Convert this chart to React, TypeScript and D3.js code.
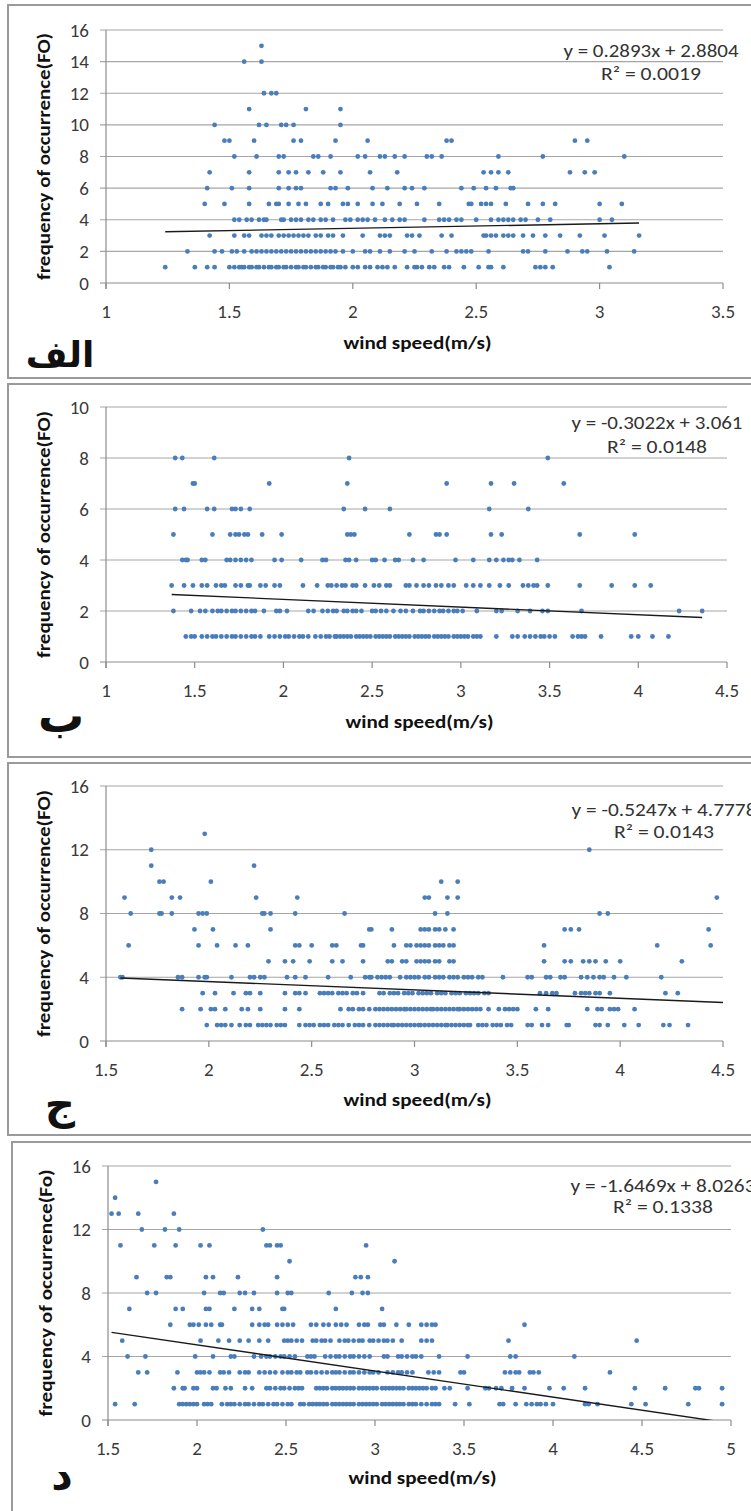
import React from "react";
import * as d3 from "d3";

const W = 751;
const H = 1511;

// Panel A (الف): [frequency, wind speeds]
const rowsA: [number, number[]][] = [
  [15, [1.63]],
  [14, [1.56, 1.63]],
  [12, [1.64, 1.67, 1.69]],
  [11, [1.58, 1.81, 1.95]],
  [10, [1.44, 1.62, 1.65, 1.71, 1.73, 1.76, 1.95]],
  [9, [1.48, 1.5, 1.6, 1.76, 1.79, 1.93, 2.06, 2.38, 2.4, 2.9, 2.95]],
  [8, [1.52, 1.61, 1.7, 1.72, 1.84, 1.86, 1.91, 2.02, 2.05, 2.11, 2.13, 2.17, 2.21, 2.3, 2.32, 2.36, 2.59, 2.77, 3.1]],
  [7, [1.42, 1.58, 1.7, 1.74, 1.77, 1.82, 1.88, 1.95, 2.07, 2.18, 2.53, 2.56, 2.59, 2.63, 2.88, 2.94, 2.98]],
  [6, [1.41, 1.51, 1.58, 1.7, 1.74, 1.77, 1.79, 1.91, 1.93, 1.98, 2.08, 2.14, 2.21, 2.24, 2.29, 2.44, 2.49, 2.54, 2.58, 2.64, 2.65]],
  [5, [1.4, 1.48, 1.58, 1.66, 1.69, 1.7, 1.74, 1.78, 1.81, 1.87, 1.9, 1.96, 1.98, 2.02, 2.08, 2.12, 2.19, 2.26, 2.35, 2.47, 2.48, 2.52, 2.54, 2.56, 2.62, 2.71, 2.77, 2.82, 3.0, 3.09]],
  [4, [1.52, 1.54, 1.57, 1.59, 1.62, 1.64, 1.65, 1.71, 1.72, 1.75, 1.77, 1.79, 1.82, 1.84, 1.87, 1.89, 1.92, 1.97, 1.99, 2.02, 2.04, 2.06, 2.09, 2.13, 2.16, 2.19, 2.21, 2.29, 2.35, 2.37, 2.39, 2.42, 2.44, 2.5, 2.56, 2.59, 2.61, 2.63, 2.65, 2.68, 2.7, 2.75, 2.8, 3.0, 3.05]],
  [3, [1.42, 1.52, 1.56, 1.58, 1.63, 1.65, 1.67, 1.7, 1.72, 1.74, 1.76, 1.78, 1.8, 1.82, 1.85, 1.87, 1.9, 1.92, 1.96, 2.04, 2.11, 2.13, 2.15, 2.22, 2.24, 2.27, 2.36, 2.4, 2.53, 2.54, 2.56, 2.58, 2.61, 2.63, 2.65, 2.69, 2.73, 2.78, 2.84, 2.92, 3.02, 3.16]],
  [2, [1.33, 1.44, 1.47, 1.51, 1.53, 1.56, 1.59, 1.61, 1.63, 1.65, 1.67, 1.69, 1.71, 1.73, 1.75, 1.77, 1.79, 1.81, 1.83, 1.85, 1.87, 1.89, 1.91, 1.93, 1.96, 2.0, 2.05, 2.07, 2.11, 2.15, 2.21, 2.25, 2.32, 2.38, 2.42, 2.44, 2.46, 2.48, 2.55, 2.69, 2.71, 2.78, 2.87, 2.93, 2.95, 3.03, 3.14]],
  [1, [1.24, 1.36, 1.41, 1.44, 1.5, 1.52, 1.54, 1.55, 1.56, 1.58, 1.59, 1.61, 1.62, 1.64, 1.66, 1.67, 1.69, 1.7, 1.72, 1.73, 1.75, 1.77, 1.78, 1.8, 1.81, 1.83, 1.85, 1.86, 1.88, 1.89, 1.91, 1.92, 1.94, 1.95, 1.97, 2.0, 2.02, 2.05, 2.07, 2.1, 2.12, 2.14, 2.17, 2.22, 2.25, 2.26, 2.28, 2.31, 2.33, 2.37, 2.39, 2.45, 2.51, 2.55, 2.56, 2.61, 2.74, 2.76, 2.78, 2.81, 3.04]],
];

// Panel B (ب)
const rowsB: [number, number[]][] = [
  [8, [1.39, 1.43, 1.61, 2.37, 3.49]],
  [7, [1.49, 1.5, 1.92, 2.36, 2.92, 3.17, 3.3, 3.58]],
  [6, [1.39, 1.44, 1.57, 1.61, 1.71, 1.73, 1.76, 1.81, 2.34, 2.46, 2.6, 3.16, 3.38]],
  [5, [1.38, 1.6, 1.7, 1.73, 1.75, 1.78, 1.8, 1.88, 1.99, 2.36, 2.38, 2.4, 2.71, 2.86, 2.88, 2.92, 3.17, 3.23, 3.67, 3.98]],
  [4, [1.43, 1.45, 1.46, 1.54, 1.56, 1.68, 1.7, 1.73, 1.76, 1.79, 1.82, 1.95, 1.99, 2.1, 2.22, 2.24, 2.35, 2.37, 2.41, 2.5, 2.52, 2.57, 2.63, 2.65, 2.73, 2.79, 2.97, 3.07, 3.16, 3.2, 3.24, 3.27, 3.29, 3.33, 3.43]],
  [3, [1.37, 1.44, 1.49, 1.54, 1.57, 1.62, 1.65, 1.67, 1.73, 1.76, 1.8, 1.81, 1.87, 1.9, 1.95, 1.98, 2.11, 2.19, 2.25, 2.27, 2.3, 2.33, 2.35, 2.39, 2.41, 2.46, 2.51, 2.54, 2.58, 2.6, 2.69, 2.71, 2.75, 2.79, 2.82, 2.86, 2.89, 2.93, 2.96, 3.03, 3.07, 3.11, 3.16, 3.22, 3.27, 3.35, 3.38, 3.41, 3.43, 3.49, 3.67, 3.85, 3.98, 4.07]],
  [2, [1.38, 1.48, 1.53, 1.56, 1.6, 1.63, 1.65, 1.68, 1.71, 1.73, 1.76, 1.79, 1.82, 1.84, 1.89, 1.96, 1.98, 2.02, 2.14, 2.17, 2.22, 2.25, 2.28, 2.3, 2.34, 2.36, 2.39, 2.41, 2.44, 2.5, 2.52, 2.55, 2.58, 2.62, 2.66, 2.69, 2.73, 2.77, 2.79, 2.82, 2.85, 2.88, 2.9, 2.93, 2.96, 2.98, 3.01, 3.09, 3.2, 3.23, 3.32, 3.39, 3.46, 3.49, 3.68, 4.23, 4.36]],
  [1, [1.45, 1.48, 1.5, 1.54, 1.57, 1.6, 1.62, 1.65, 1.68, 1.71, 1.73, 1.76, 1.79, 1.82, 1.84, 1.87, 1.92, 1.95, 1.98, 2.01, 2.03, 2.06, 2.09, 2.11, 2.14, 2.18, 2.21, 2.24, 2.26, 2.29, 2.3, 2.32, 2.34, 2.36, 2.38, 2.41, 2.43, 2.45, 2.47, 2.49, 2.52, 2.54, 2.56, 2.58, 2.6, 2.63, 2.65, 2.67, 2.69, 2.71, 2.74, 2.76, 2.78, 2.8, 2.82, 2.85, 2.87, 2.89, 2.91, 2.93, 2.96, 2.98, 3.0, 3.02, 3.04, 3.07, 3.09, 3.11, 3.2, 3.29, 3.32, 3.36, 3.39, 3.42, 3.45, 3.47, 3.5, 3.53, 3.63, 3.66, 3.68, 3.7, 3.79, 3.96, 4.0, 4.08, 4.17]],
];

// Panel C (ج)
const rowsC: [number, number[]][] = [
  [13, [1.98]],
  [12, [1.72, 3.85]],
  [11, [1.72, 2.22]],
  [10, [1.76, 1.78, 2.01, 3.13, 3.21]],
  [9, [1.59, 1.82, 1.86, 2.23, 2.43, 3.05, 3.07, 3.16, 3.21, 4.47]],
  [8, [1.62, 1.76, 1.77, 1.82, 1.95, 1.97, 1.99, 2.26, 2.27, 2.3, 2.42, 2.66, 3.1, 3.16, 3.9, 3.94]],
  [7, [1.93, 2.02, 2.3, 2.78, 2.79, 2.89, 3.03, 3.05, 3.07, 3.1, 3.12, 3.15, 3.19, 3.73, 3.76, 3.8, 4.43]],
  [6, [1.61, 1.95, 2.04, 2.13, 2.19, 2.42, 2.44, 2.5, 2.6, 2.62, 2.74, 2.75, 2.9, 2.96, 2.98, 3.01, 3.03, 3.05, 3.07, 3.1, 3.12, 3.14, 3.17, 3.19, 3.63, 4.18, 4.44]],
  [5, [2.29, 2.37, 2.41, 2.49, 2.6, 2.65, 2.75, 2.87, 2.89, 2.94, 2.96, 3.01, 3.03, 3.05, 3.07, 3.1, 3.12, 3.17, 3.19, 3.63, 3.73, 3.76, 3.82, 3.85, 3.88, 3.93, 4.0, 4.3]],
  [4, [1.57, 1.58, 1.85, 1.87, 1.95, 1.98, 1.99, 2.11, 2.2, 2.22, 2.25, 2.27, 2.38, 2.42, 2.47, 2.58, 2.69, 2.76, 2.78, 2.79, 2.82, 2.84, 2.86, 2.88, 2.93, 2.96, 2.98, 3.0, 3.02, 3.05, 3.07, 3.1, 3.12, 3.14, 3.17, 3.19, 3.21, 3.24, 3.26, 3.28, 3.31, 3.33, 3.43, 3.55, 3.57, 3.64, 3.66, 3.71, 3.73, 3.81, 3.84, 3.87, 3.9, 3.92, 3.97, 4.03, 4.2]],
  [3, [1.97, 2.03, 2.12, 2.18, 2.2, 2.25, 2.37, 2.42, 2.44, 2.47, 2.54, 2.56, 2.58, 2.6, 2.63, 2.65, 2.67, 2.7, 2.72, 2.75, 2.83, 2.85, 2.88, 2.9, 2.92, 2.95, 2.97, 2.99, 3.02, 3.04, 3.06, 3.08, 3.11, 3.13, 3.15, 3.18, 3.2, 3.22, 3.25, 3.27, 3.29, 3.31, 3.34, 3.36, 3.61, 3.64, 3.67, 3.69, 3.78, 3.81, 3.83, 3.85, 3.88, 3.9, 3.95, 4.22, 4.28]],
  [2, [1.87, 1.96, 2.01, 2.03, 2.08, 2.16, 2.19, 2.25, 2.37, 2.44, 2.64, 2.68, 2.7, 2.73, 2.75, 2.78, 2.81, 2.83, 2.85, 2.87, 2.89, 2.91, 2.93, 2.95, 2.96, 2.98, 3.0, 3.02, 3.04, 3.06, 3.08, 3.09, 3.11, 3.13, 3.15, 3.17, 3.19, 3.21, 3.22, 3.24, 3.26, 3.28, 3.3, 3.32, 3.36, 3.41, 3.44, 3.46, 3.48, 3.5, 3.59, 3.65, 3.84, 3.89, 3.91, 3.95, 3.97, 3.99, 4.07]],
  [1, [1.99, 2.04, 2.06, 2.08, 2.11, 2.15, 2.18, 2.2, 2.24, 2.26, 2.28, 2.3, 2.33, 2.35, 2.37, 2.44, 2.47, 2.49, 2.51, 2.54, 2.56, 2.58, 2.61, 2.63, 2.65, 2.68, 2.71, 2.73, 2.75, 2.78, 2.81, 2.83, 2.85, 2.87, 2.89, 2.9, 2.92, 2.94, 2.96, 2.98, 3.0, 3.02, 3.03, 3.05, 3.07, 3.09, 3.11, 3.13, 3.15, 3.16, 3.18, 3.2, 3.22, 3.24, 3.26, 3.27, 3.31, 3.33, 3.35, 3.38, 3.4, 3.42, 3.45, 3.47, 3.55, 3.57, 3.62, 3.65, 3.74, 3.75, 3.88, 3.9, 3.94, 4.02, 4.09, 4.21, 4.24, 4.33]],
];

// Panel D (د)
const rowsD: [number, number[]][] = [
  [15, [1.77]],
  [14, [1.54]],
  [13, [1.52, 1.56, 1.67, 1.87]],
  [12, [1.69, 1.82, 1.9, 2.37]],
  [11, [1.57, 1.76, 1.88, 2.02, 2.07, 2.39, 2.41, 2.45, 2.47, 2.95]],
  [10, [2.52, 3.11]],
  [9, [1.66, 1.83, 1.85, 2.05, 2.09, 2.23, 2.45, 2.89, 2.92, 2.96]],
  [8, [1.72, 1.77, 2.04, 2.13, 2.15, 2.24, 2.27, 2.32, 2.45, 2.51, 2.53, 2.74, 2.87, 2.93, 2.96]],
  [7, [1.62, 1.88, 1.92, 2.05, 2.07, 2.21, 2.31, 2.35, 2.48, 2.49, 2.78, 3.04]],
  [6, [1.85, 1.96, 1.98, 2.01, 2.05, 2.08, 2.13, 2.14, 2.31, 2.35, 2.38, 2.4, 2.45, 2.48, 2.51, 2.54, 2.64, 2.67, 2.71, 2.74, 2.78, 2.81, 2.84, 2.91, 2.94, 2.96, 3.03, 3.05, 3.12, 3.19, 3.26, 3.29, 3.32, 3.34, 3.84]],
  [5, [1.58, 2.02, 2.12, 2.18, 2.24, 2.29, 2.35, 2.4, 2.49, 2.51, 2.53, 2.56, 2.59, 2.65, 2.67, 2.7, 2.72, 2.75, 2.8, 2.83, 2.85, 2.88, 2.91, 2.93, 2.97, 2.99, 3.02, 3.05, 3.07, 3.1, 3.15, 3.26, 3.29, 3.32, 3.75, 4.47]],
  [4, [1.61, 1.71, 1.99, 2.09, 2.19, 2.21, 2.32, 2.36, 2.39, 2.41, 2.44, 2.47, 2.49, 2.52, 2.55, 2.62, 2.64, 2.66, 2.72, 2.75, 2.78, 2.8, 2.83, 2.86, 2.88, 2.91, 2.94, 2.97, 3.05, 3.07, 3.13, 3.15, 3.18, 3.21, 3.23, 3.26, 3.36, 3.52, 3.76, 3.79, 4.12]],
  [3, [1.67, 1.72, 1.89, 2.0, 2.02, 2.04, 2.07, 2.13, 2.15, 2.18, 2.24, 2.27, 2.29, 2.35, 2.38, 2.41, 2.44, 2.48, 2.51, 2.53, 2.56, 2.58, 2.62, 2.64, 2.67, 2.7, 2.73, 2.76, 2.78, 2.8, 2.83, 2.86, 2.88, 2.91, 2.94, 2.97, 2.99, 3.02, 3.07, 3.1, 3.13, 3.15, 3.18, 3.21, 3.3, 3.33, 3.36, 3.48, 3.5, 3.73, 3.76, 3.79, 3.81, 3.87, 3.89, 3.92, 4.32]],
  [2, [1.87, 1.92, 1.93, 1.98, 2.0, 2.09, 2.11, 2.16, 2.19, 2.27, 2.31, 2.39, 2.41, 2.44, 2.47, 2.49, 2.52, 2.55, 2.57, 2.59, 2.67, 2.69, 2.71, 2.73, 2.76, 2.78, 2.8, 2.82, 2.84, 2.86, 2.88, 2.91, 2.93, 2.95, 2.97, 2.99, 3.01, 3.04, 3.06, 3.08, 3.1, 3.12, 3.14, 3.16, 3.19, 3.21, 3.23, 3.25, 3.27, 3.29, 3.32, 3.34, 3.39, 3.42, 3.52, 3.62, 3.64, 3.68, 3.71, 3.77, 3.84, 3.98, 4.06, 4.18, 4.46, 4.63, 4.8, 4.82, 4.95]],
  [1, [1.54, 1.65, 1.9, 1.92, 1.94, 1.96, 1.98, 2.0, 2.04, 2.06, 2.08, 2.14, 2.17, 2.19, 2.21, 2.24, 2.27, 2.29, 2.32, 2.35, 2.37, 2.4, 2.43, 2.45, 2.48, 2.51, 2.53, 2.58, 2.6, 2.63, 2.65, 2.67, 2.69, 2.71, 2.73, 2.76, 2.78, 2.8, 2.82, 2.84, 2.86, 2.88, 2.91, 2.93, 2.95, 2.97, 2.99, 3.01, 3.04, 3.06, 3.08, 3.1, 3.12, 3.14, 3.16, 3.19, 3.21, 3.23, 3.26, 3.29, 3.32, 3.34, 3.36, 3.45, 3.53, 3.7, 3.72, 3.79, 3.85, 3.88, 3.91, 3.93, 3.96, 4.0, 4.18, 4.2, 4.25, 4.44, 4.52, 4.76, 4.95]],
];

const xTicksA = [1, 1.5, 2, 2.5, 3, 3.5];
const yTicksA = [0, 2, 4, 6, 8, 10, 12, 14, 16];
const xTicksB = [1, 1.5, 2, 2.5, 3, 3.5, 4, 4.5];
const yTicksB = [0, 2, 4, 6, 8, 10];
const xTicksC = [1.5, 2, 2.5, 3, 3.5, 4, 4.5];
const yTicksC = [0, 4, 8, 12, 16];
const xTicksD = [1.5, 2, 2.5, 3, 3.5, 4, 4.5, 5];
const yTicksD = [0, 4, 8, 12, 16];

const trendA = [0.2893, 2.8804];
const trendB = [-0.3022, 3.061];
const trendC = [-0.5247, 4.7778];
const trendD = [-1.6469, 8.0263];

const equations = ["y = 0.2893x + 2.8804", "y = -0.3022x + 3.061", "y = -0.5247x + 4.7778", "y = -1.6469x + 8.0263"];
const rSquared = ["0.0019", "0.0148", "0.0143", "0.1338"];
const yTitles = ["frequency of occurrence(FO)", "frequency of occurrence(FO)", "frequency of occurrence(FO)", "frequency of occurrence(Fo)"];
const xTitle = "wind speed(m/s)";
const panelLetters = ["الف", "ب", "ج", "د"];

const layouts = [
  { fx: 8, fy: 5, fh: 373, x0: 106, x1: 723, yTop: 30, yBot: 283, eqX: 651, eqY: 51, rY: 74, eqW: 175, lx: 60, ly: 354, ls: 36, xtY: 343, ytX: 44 },
  { fx: 8, fy: 384, fh: 373, x0: 106, x1: 727, yTop: 407, yBot: 662, eqX: 657, eqY: 423, rY: 447, eqW: 171, lx: 61, ly: 716, ls: 46, xtY: 722, ytX: 44 },
  { fx: 8, fy: 763, fh: 372, x0: 106, x1: 723, yTop: 786, yBot: 1041, eqX: 664, eqY: 810, rY: 832, eqW: 185, lx: 60, ly: 1104, ls: 42, xtY: 1100, ytX: 44 },
  { fx: 12, fy: 1142, fh: 380, x0: 108, x1: 731, yTop: 1166, yBot: 1420, eqX: 663, eqY: 1186, rY: 1207, eqW: 185, lx: 62, ly: 1474, ls: 42, xtY: 1478, ytX: 46 },
];

const panels = [
  { rows: rowsA, xTicks: xTicksA, yTicks: yTicksA, trend: trendA },
  { rows: rowsB, xTicks: xTicksB, yTicks: yTicksB, trend: trendB },
  { rows: rowsC, xTicks: xTicksC, yTicks: yTicksC, trend: trendC },
  { rows: rowsD, xTicks: xTicksD, yTicks: yTicksD, trend: trendD },
];

const NUM_FONT = "Carlito, Lato, 'Open Sans', sans-serif";
const DOT = "#4a7ebb";
const GRID = "#a6a6a6";
const AXIS = "#8c8c8c";

function Panel({ idx }: { idx: number }) {
  const p = panels[idx];
  const L = layouts[idx];
  const xs = p.xTicks;
  const ys = p.yTicks;
  const x = d3.scaleLinear().domain([xs[0], xs[xs.length - 1]]).range([L.x0, L.x1]);
  const y = d3.scaleLinear().domain([ys[0], ys[ys.length - 1]]).range([L.yBot, L.yTop]);
  const pts: [number, number][] = [];
  p.rows.forEach(([f, ws]) => ws.forEach((w) => pts.push([w, f])));
  const [xmin, xmax] = d3.extent(pts, (d) => d[0]) as [number, number];
  const tEnd = idx === 2 ? xs[xs.length - 1] : xmax;
  const line = d3
    .line<number>()
    .x((v) => x(v))
    .y((v) => y(p.trend[0] * v + p.trend[1]));
  const clipId = `clip${idx}`;
  return (
    <g>
      <rect x={L.fx} y={L.fy} width={W + 20} height={L.fh} fill="#fff" stroke="#9a9a9a" strokeWidth={2} />
      <defs>
        <clipPath id={clipId}>
          <rect x={L.x0} y={L.yTop - 5} width={L.x1 - L.x0} height={L.yBot - L.yTop + 5} />
        </clipPath>
      </defs>
      {ys.map((t) => (
        <line key={"g" + t} x1={L.x0 - 6} x2={L.x1} y1={y(t)} y2={y(t)} stroke={t === 0 ? AXIS : GRID} strokeWidth={1.2} />
      ))}
      <line x1={L.x0} x2={L.x0} y1={L.yTop} y2={L.yBot + 6} stroke={AXIS} strokeWidth={1.2} />
      {xs.map((t) => (
        <line key={"xt" + t} x1={x(t)} x2={x(t)} y1={L.yBot} y2={L.yBot + 6} stroke={AXIS} strokeWidth={1.2} />
      ))}
      {ys.map((t) => (
        <text key={"yl" + t} x={L.x0 - 17} y={y(t)} textAnchor="end" dominantBaseline="central" fontFamily={NUM_FONT} fontSize={19} fill="#3a3a3a">
          {t}
        </text>
      ))}
      {xs.map((t) => (
        <text key={"xl" + t} x={x(t)} y={L.yBot + 28} textAnchor="middle" dominantBaseline="central" fontFamily={NUM_FONT} fontSize={19} fill="#3a3a3a">
          {t}
        </text>
      ))}
      {pts.map((d, i) => (
        <circle key={i} cx={x(d[0])} cy={y(d[1])} r={2.4} fill={DOT} />
      ))}
      <path d={line([xmin, tEnd]) || ""} stroke="#1a1a1a" strokeWidth={1.4} fill="none" clipPath={`url(#${clipId})`} />
      <text
        x={L.eqX}
        y={L.eqY}
        textAnchor="middle"
        dominantBaseline="central"
        fontFamily={NUM_FONT}
        fontSize={18}
        fill="#333"
        textLength={L.eqW}
        lengthAdjust="spacingAndGlyphs"
      >
        {equations[idx]}
      </text>
      <text
        x={L.eqX}
        y={L.rY}
        textAnchor="middle"
        dominantBaseline="central"
        fontFamily={NUM_FONT}
        fontSize={18}
        fill="#333"
        textLength={100}
        lengthAdjust="spacingAndGlyphs"
      >
        R² = {rSquared[idx]}
      </text>
      <text
        x={(L.x0 + L.x1) / 2 + 3}
        y={L.xtY}
        textAnchor="middle"
        dominantBaseline="central"
        fontFamily={NUM_FONT}
        fontWeight="bold"
        fontSize={18}
        fill="#111"
        textLength={148}
        lengthAdjust="spacingAndGlyphs"
      >
        {xTitle}
      </text>
      <text
        transform={`translate(${L.ytX},${(L.yTop + L.yBot) / 2}) rotate(-90)`}
        textAnchor="middle"
        dominantBaseline="central"
        fontFamily={NUM_FONT}
        fontWeight="bold"
        fontSize={18}
        fill="#111"
        textLength={247}
        lengthAdjust="spacingAndGlyphs"
      >
        {yTitles[idx]}
      </text>
      <text x={L.lx} y={L.ly} textAnchor="middle" dominantBaseline="central" fontFamily="'DejaVu Sans', sans-serif" fontWeight="bold" fontSize={L.ls} fill="#111">
        {panelLetters[idx]}
      </text>
    </g>
  );
}

export default function App() {
  return (
    <div style={{ position: "absolute", left: 0, top: 0, width: W, height: H, background: "#fff" }}>
      <svg width={W} height={H} viewBox={`0 0 ${W} ${H}`} style={{ display: "block" }}>
        <rect x={0} y={0} width={W} height={H} fill="#fff" />
        {panels.map((_, i) => (
          <Panel key={i} idx={i} />
        ))}
      </svg>
    </div>
  );
}
